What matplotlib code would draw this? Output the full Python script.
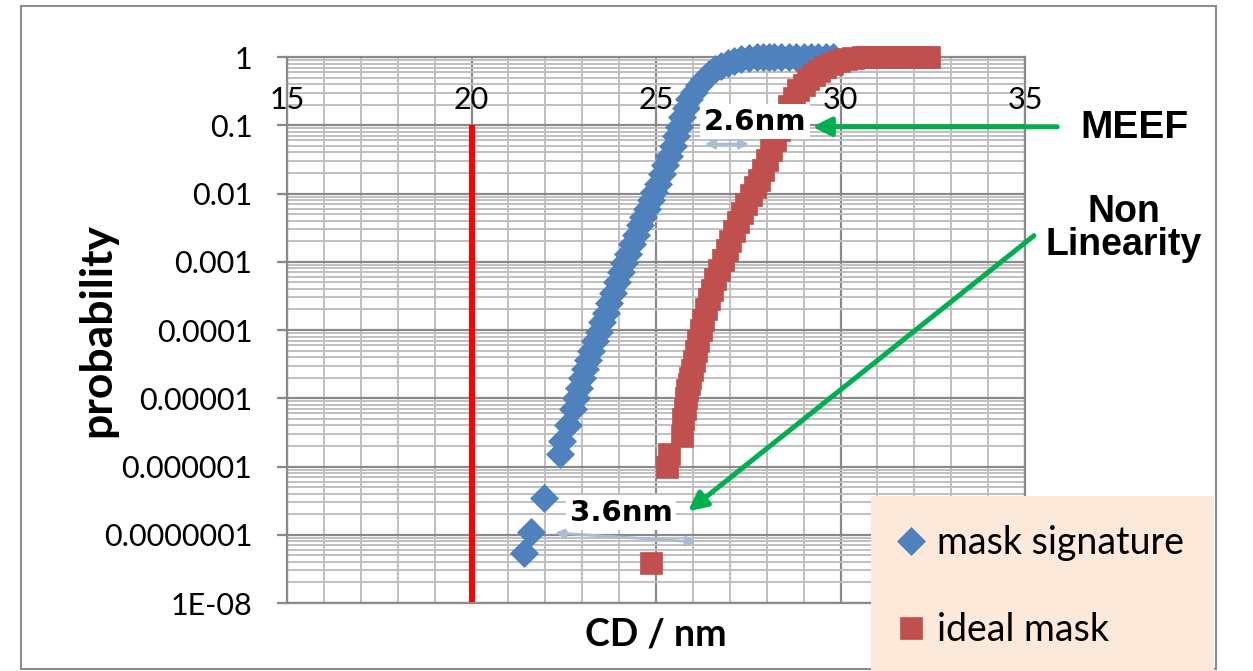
import matplotlib.pyplot as plt
from matplotlib.patches import Rectangle
from matplotlib.ticker import FixedLocator, LogLocator, MultipleLocator, NullFormatter

# cumulative CD distributions, mask with signature vs ideal mask
sig_cd = [21.43, 21.62, 21.97, 22.40, 22.46, 22.62, 22.76, 22.84, 22.92, 23.00,
          23.08, 23.16, 23.25, 23.35, 23.45, 23.54, 23.64, 23.73, 23.84, 23.95,
          24.05, 24.14, 24.25, 24.35, 24.46, 24.57, 24.66, 24.76, 24.86, 24.95,
          25.05, 25.16, 25.25, 25.35, 25.45, 25.54, 25.62, 25.70, 25.80, 25.89,
          26.02, 26.16, 26.30, 26.43, 26.60, 26.76, 26.95, 27.11, 27.30, 27.51,
          27.75, 27.90, 28.05, 28.20, 28.40, 28.60, 28.80, 29.00, 29.20, 29.40,
          29.60, 29.80]
sig_prob = [5.4e-8, 1.1e-7, 3.5e-7, 1.5e-6, 2.4e-6, 4.0e-6, 6.9e-6, 1.0e-5, 1.4e-5, 2.0e-5,
            2.7e-5, 3.6e-5, 5.0e-5, 7.0e-5, 9.5e-5, 1.3e-4, 1.8e-4, 2.5e-4, 3.5e-4, 5.0e-4,
            7.0e-4, 9.5e-4, 1.3e-3, 1.8e-3, 2.5e-3, 3.4e-3, 4.5e-3, 6.0e-3, 8.0e-3, 1.05e-2,
            1.4e-2, 1.9e-2, 2.6e-2, 3.6e-2, 5.0e-2, 7.0e-2, 9.5e-2, 0.13, 0.18, 0.24,
            0.31, 0.39, 0.48, 0.57, 0.66, 0.74, 0.81, 0.87, 0.92, 0.965,
            0.985, 0.99, 0.995, 0.996, 0.998, 0.9985, 0.999, 0.9993, 0.9995, 0.9997,
            0.9999, 0.99995]

ideal_cd = [24.86, 25.30, 25.35, 25.70, 25.74, 25.78, 25.81, 25.85, 25.89, 25.93,
            25.97, 26.02, 26.08, 26.15, 26.22, 26.28, 26.35, 26.43, 26.51, 26.60,
            26.70, 26.81, 26.92, 27.01, 27.11, 27.21, 27.32, 27.45, 27.57, 27.68,
            27.78, 27.89, 28.00, 28.11, 28.22, 28.34, 28.46, 28.60, 28.73, 28.86,
            29.00, 29.13, 29.27, 29.43, 29.59, 29.77, 29.95, 30.15, 30.35, 30.60,
            30.75, 30.90, 31.05, 31.20, 31.40, 31.60, 31.80, 32.00, 32.20, 32.40]
ideal_prob = [3.9e-8, 1.0e-6, 1.5e-6, 2.8e-6, 5.0e-6, 7.0e-6, 1.0e-5, 1.3e-5, 1.6e-5, 2.0e-5,
              2.6e-5, 3.5e-5, 5.0e-5, 7.0e-5, 1.0e-4, 1.4e-4, 2.0e-4, 2.8e-4, 3.9e-4, 5.5e-4,
              7.6e-4, 1.05e-3, 1.5e-3, 2.0e-3, 2.8e-3, 3.8e-3, 5.1e-3, 7.0e-3, 9.5e-3, 1.25e-2,
              1.6e-2, 2.2e-2, 3.1e-2, 4.3e-2, 6.0e-2, 8.5e-2, 0.13, 0.19, 0.25, 0.33,
              0.39, 0.47, 0.55, 0.63, 0.71, 0.80, 0.87, 0.93, 0.965, 0.985,
              0.99, 0.995, 0.996, 0.998, 0.9985, 0.999, 0.9993, 0.9995, 0.9997, 0.9999]

x_ticks = [15, 20, 25, 30, 35]
y_ticks = [1e-8, 1e-7, 1e-6, 1e-5, 1e-4, 1e-3, 1e-2, 1e-1, 1]
y_tick_labels = ['1E-08', '0.0000001', '0.000001', '0.00001', '0.0001',
                 '0.001', '0.01', '0.1', '1']

spec_cd = 20
meef_span = (26.25, 27.60, 0.053)       # x0, x1, probability
nonlin_span = (22.19, 26.16, 1.07e-7, 7.8e-8)

BLUE = '#4f81bd'
RED = '#c0504d'
GREEN = '#00b050'
GRID_MAJOR = '#8a8a8a'
GRID_MINOR = '#c0c0c0'
SPAN = '#a9bcd3'

plt.rcParams['font.family'] = ['Lato', 'DejaVu Sans']

fig = plt.figure(figsize=(12.53, 6.71), dpi=100)
ax = fig.add_axes([0.22905, 0.10134, 0.58899, 0.81371])

ax.set_yscale('log')
ax.set_xlim(15, 35)
ax.set_ylim(1e-8, 1)
ax.yaxis.set_major_locator(FixedLocator(y_ticks))
ax.set_yticklabels(y_tick_labels)
ax.yaxis.set_minor_locator(LogLocator(base=10, subs=range(2, 10), numticks=20))
ax.yaxis.set_minor_formatter(NullFormatter())
ax.xaxis.set_major_locator(FixedLocator(x_ticks))
ax.xaxis.set_minor_locator(MultipleLocator(1))

ax.grid(which='major', color=GRID_MAJOR, lw=1.6)
ax.grid(which='minor', color=GRID_MINOR, lw=1.4)
ax.set_axisbelow(True)
for sp in ax.spines.values():
    sp.set_color(GRID_MAJOR)
    sp.set_linewidth(1.6)

ax.tick_params(axis='x', which='both', length=0, labelbottom=False)
ax.tick_params(axis='y', which='major', length=7, width=1.6, color=GRID_MAJOR,
               pad=18, labelsize=22)
ax.tick_params(axis='y', which='minor', length=0)

# x tick labels sit just above the 0.1 line
for x in x_ticks:
    ax.annotate(str(x), xy=(x, 0.1), xytext=(0, 8), textcoords='offset points',
                ha='center', va='bottom', fontsize=22, annotation_clip=False)

ax.set_xlabel('CD / nm', fontsize=27, fontweight='bold')
ax.xaxis.label.set_va('center')
ax.xaxis.set_label_coords(0.5, -0.057)
ax.set_ylabel('probability', fontsize=32, fontweight='bold')
ax.yaxis.label.set_va('center')
ax.yaxis.set_label_coords(-0.257, 0.5)

# spec limit
ax.plot([spec_cd, spec_cd], [1e-8, 0.1], color='#ff0000', lw=4.3,
        solid_capstyle='butt', zorder=2)

# CD shift arrows
ax.annotate('', xy=(meef_span[0], meef_span[2]), xytext=(meef_span[1], meef_span[2]),
            arrowprops=dict(arrowstyle='<|-|>', color=SPAN, lw=2, mutation_scale=14),
            zorder=2)
ax.annotate('', xy=(nonlin_span[0], nonlin_span[2]), xytext=(nonlin_span[1], nonlin_span[3]),
            arrowprops=dict(arrowstyle='<|-|>', color=SPAN, lw=2, mutation_scale=14),
            zorder=2)

sig, = ax.plot(sig_cd, sig_prob, ls='none', marker='D', ms=14.5, color=BLUE,
               mec=BLUE, mew=0.5, clip_on=False, zorder=3, label='mask signature')
ideal, = ax.plot(ideal_cd, ideal_prob, ls='none', marker='s', ms=16.5, color=RED,
                 mec=RED, mew=0.5, clip_on=False, zorder=3, label='ideal mask')

box = dict(boxstyle='square,pad=0.12', fc='white', ec='none')
ax.text(27.68, 0.112, '2.6nm', family='DejaVu Sans', fontweight='bold', fontsize=21,
        ha='center', va='center', bbox=box, zorder=5)
ax.text(24.05, 2.1e-7, '3.6nm', family='DejaVu Sans', fontweight='bold', fontsize=21,
        ha='center', va='center', bbox=box, zorder=5)

# call-outs on the right
ax.annotate('', xy=(29.16, 0.095), xytext=(35.95, 0.095),
            arrowprops=dict(arrowstyle='-|>', color=GREEN, lw=3.6, mutation_scale=28),
            annotation_clip=False, zorder=6)
ax.text(37.97, 0.091, 'MEEF', family='Liberation Sans', fontweight='bold', fontsize=28,
        ha='center', va='center', clip_on=False)
ax.annotate('', xy=(25.81, 2.08e-7), xytext=(35.30, 0.00255),
            arrowprops=dict(arrowstyle='-|>', color=GREEN, lw=3.6, mutation_scale=28),
            annotation_clip=False, zorder=6)
ax.text(37.68, 0.0031, 'Non\nLinearity', family='Liberation Sans', fontweight='bold',
        fontsize=27, ha='center', va='center', linespacing=0.9, clip_on=False)

# outer chart frame
fig.add_artist(Rectangle((21 / 1253, 2 / 671), 1195 / 1253, 663 / 671,
                         transform=fig.transFigure, fill=False, ec='#8c8c8c', lw=1.5))
# legend panel
fig.add_artist(Rectangle((871 / 1253, 0), 343 / 1253, 175 / 671,
                         transform=fig.transFigure, fc='#fde9d9', ec='none', zorder=3))
fig.legend(handles=[sig, ideal], loc='upper left', bbox_to_anchor=(892 / 1253, 146 / 671),
           bbox_transform=fig.transFigure, frameon=False, fontsize=27,
           borderpad=0, borderaxespad=0, handlelength=1.0, handletextpad=0.2,
           labelspacing=1.36, markerscale=0.95)

fig.savefig('out.png', dpi=100)
